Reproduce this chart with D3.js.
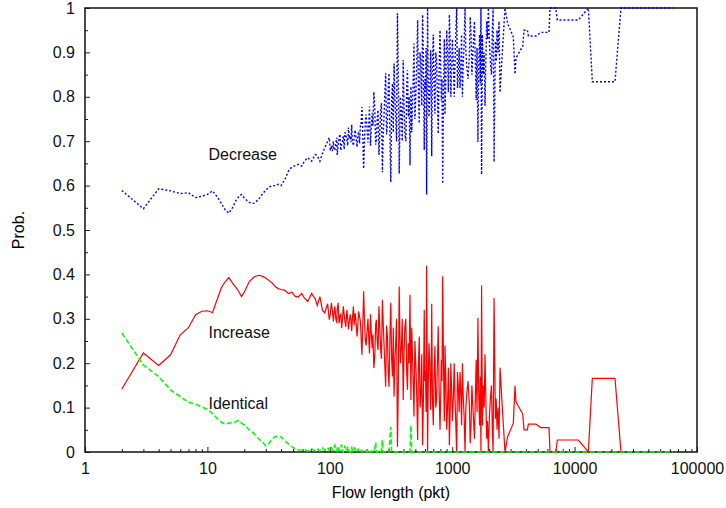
<!DOCTYPE html>
<html>
<head>
<meta charset="utf-8">
<script src="https://cdn.jsdelivr.net/npm/d3@7"></script>
<style>
    body { margin: 0; background: #fff; }
    text { font-family: "Liberation Sans", Arial, sans-serif; }
</style>
</head>
<body>
<div id="chart"></div>
<script>
// Flow lengths (pkt) shared by all three series.
const FLOW_LEN = [
    2, 3, 4, 5, 6, 7, 8, 9, 10, 11, 12, 13, 14, 15, 16, 17, 18, 19, 20, 22, 24, 26, 28,
    30, 32, 34, 36, 38, 40, 43, 46, 49, 52, 55, 59, 62, 66, 71, 76, 79, 83, 87, 91, 96, 99,
    101, 103, 105, 107, 108, 110, 112, 114, 115, 117,
    119, 121, 123, 125, 127, 129, 131, 133, 135, 138,
    140, 142, 144, 147, 149, 151, 153, 156, 158, 161,
    164, 167, 169, 172, 175, 178, 180, 183, 186, 189,
    192, 195, 198, 202, 205, 208, 211, 215, 218, 222,
    225, 229, 233, 237, 240, 244, 248, 252, 256, 260,
    264, 269, 273, 277, 281, 286, 291, 296, 300, 305,
    310, 315, 320, 325, 330, 335, 340, 346, 351, 357,
    363, 369,
    377, 385, 391, 398, 404, 411, 418, 425, 431, 438,
    445, 452, 460, 467, 475, 481, 487, 496, 506, 514,
    522, 530, 538, 546, 555, 564, 573, 582, 591, 598,
    605, 612, 618, 623, 629, 637, 646, 656, 667, 673,
    680, 690, 701, 712, 723, 734, 746, 757, 769, 782,
    795, 804, 814, 825, 836, 849, 862, 868, 873, 888,
    902, 916, 930, 939, 948, 961, 974, 989, 1004,
    1024, 1039, 1054, 1071, 1088, 1104, 1121, 1140, 1158, 1175,
    1193, 1212, 1232, 1252, 1273, 1293, 1313, 1346, 1380, 1403,
    1426, 1448, 1471, 1495, 1520, 1545, 1570, 1596, 1622, 1648,
    1674, 1696, 1718, 1738, 1766, 1795, 1824, 1854, 1883, 1913,
    1945, 1976, 2014, 2052, 2093, 2127, 2159, 2198, 2253, 2288,
    2324, 2368, 2414, 2460, 2536,
    2700, 2840, 3157, 3260, 3320, 3766, 3864, 4115, 4192, 4842,
    5288, 6180, 6296, 7015, 7230, 10740, 12950, 13960, 21380, 23930,
    63700
];

const DECREASE = [
    .589, .548, .593, .588, .582, .584, .573, .576, .58, .588, .575, .56, .545, .538, .55, .565, .575, .58, .572, .562, .56, .568, .58,
    .59, .597, .6, .6, .603, .6, .614, .633, .642, .645, .648, .644, .655, .663, .655, .67, .667, .655, .672, .685, .7, .708,
    .682, .687, .678, .70, .68, .68, .696, .708, .669, .69,
    .707, .716, .679, .694, .698, .712, .682, .72, .715, .703,
    .69, .731, .706, .712, .698, .737, .699, .69, .706, .725,
    .708, .687, .714, .718, .695, .737, .737, .777, .715, .638,
    .696, .744, .76, .724, .697, .738, .778, .69, .728, .764,
    .735, .811, .776, .692, .702, .75, .77, .669, .72, .766,
    .786, .63, .71, .754, .80, .853, .715, .743, .82, .853,
    .71, .608, .79, .83, .72, .875, .80, .747, .70, .988,
    .85, .627,
    .8, .762, .7, .883, .78, .717, .7, .819, .86, .755,
    .8, .646, .823, .72, .793, .85, .92, .75, .816, .88,
    .973, .8, .74, .9, .874, .78, .985, .88, .68, .84,
    .816, .91, .58, .75, 1, .85, .755, .8, .905, .84,
    .666, .88, .94, .82, .762, .9, .883, .8, .717, .86,
    .95, .89, .792, .84, .604, .8, .93, .88, .76, .84,
    .95, .9, .81, .87, .985, .92, .8, .86, .93,
    .87, .8, .88, .94, 1, .82, .85, .91, .82, .86,
    .94, .8, .88, .92, 1, .9, .87, .84, .89, .98,
    .94, .85, .89, .93, .97, .88, .792, .91, .698, .87,
    .94, .83, 1, .625, .94, .85, .9, .78, .88, .97,
    .93, 1, .92, .88, .85, .95, 1, .653, .925, .88,
    .95, .9, .97, .81, .875,
    1, .965, .935, .851, .887, .914, .95, .95, .937, .937,
    .945, .945, 1, 1, .973, .973, 1, .834, .834, 1,
    1
];

const INCREASE = [
    .142, .223, .195, .219, .264, .28, .309, .317, .318, .314, .343, .37, .384, .393, .381, .372, .362, .35, .36, .384, .394, .398, .396,
    .392, .386, .38, .372, .368, .366, .364, .357, .36, .351, .349, .357, .347, .339, .357, .345, .33, .35, .32, .313, .334, .298,
    .31, .336, .318, .294, .31, .328, .30, .291, .322, .336,
    .29, .306, .31, .279, .30, .328, .31, .294, .282, .32,
    .30, .276, .292, .31, .295, .272, .30, .328, .285, .313,
    .292, .26, .28, .317, .305, .294, .26, .219, .285, .362,
    .30, .253, .24, .276, .30, .257, .222, .31, .27, .234,
    .265, .189, .216, .287, .298, .25, .23, .328, .28, .234,
    .21, .343, .29, .246, .20, .147, .285, .257, .18, .147,
    .26, .336, .21, .17, .28, .125, .20, .253, .30, .012,
    .15, .373,
    .2, .238, .3, .117, .22, .283, .3, .181, .14, .245,
    .2, .354, .117, .28, .207, .15, .08, .25, .184, .12,
    .027, .2, .26, .1, .126, .22, .015, .12, .32, .16,
    .184, .09, .42, .25, 0, .15, .245, .2, .095, .16,
    .334, .12, .06, .18, .238, .1, .117, .2, .283, .14,
    .05, .11, .208, .16, .396, .2, .07, .12, .24, .16,
    .05, .1, .19, .13, .015, .08, .2, .14, .07,
    .13, .2, .12, .06, 0, .18, .15, .09, .18, .14,
    .06, .2, .12, .08, 0, .1, .13, .16, .11, .02,
    .06, .15, .11, .07, .03, .12, .208, .09, .302, .13,
    .06, .17, 0, .375, .06, .15, .1, .22, .12, .03,
    .07, 0, .08, .12, .15, .05, 0, .347, .075, .12,
    .05, .1, .03, .19, .125,
    0, .035, .065, .149, .113, .086, .05, .05, .063, .063,
    .055, .055, 0, 0, .027, .027, 0, .166, .166, 0,
    null
];

const IDENTICAL = [
    .268, .196, .17, .14, .125, .112, .108, .102, .096, .087, .076, .067, .063, .065, .066, .068, .071, .065, .061, .05, .042, .031, .023,
    .014, .02, .03, .035, .036, .034, .026, .018, .012, .007, .005, .004, .006, .002, .007, .003, .008, .002, .009, .004, .01, .004,
    .008, .012, .004, .003, .01, .015, .004, .002, .009, .013,
    .003, .004, .011, .017, .002, 0, .008, .014, .003, .003,
    .01, .012, .002, 0, .007, .01, .001, .002, .009, .008,
    0, 0, .006, .006, 0, 0, .003, .004, 0, 0,
    .004, .003, 0, 0, .003, .005, 0, 0, .002, .002,
    0, 0, .008, .021, 0, 0, 0, .003, 0, 0,
    .004, .027, 0, 0, 0, 0, 0, 0, 0, 0,
    .03, .056, 0, 0, 0, 0, 0, 0, 0, 0,
    0, 0,
    0, 0, 0, 0, 0, 0, 0, 0, 0, 0,
    0, 0, .06, 0, 0, 0, 0, 0, 0, 0,
    0, 0, 0, 0, 0, 0, 0, 0, 0, 0,
    0, 0, 0, 0, 0, 0, 0, 0, 0, 0,
    0, 0, 0, 0, 0, 0, 0, 0, 0, 0,
    0, 0, 0, 0, 0, 0, 0, 0, 0, 0,
    0, 0, 0, 0, 0, 0, 0, 0, 0,
    0, 0, 0, 0, 0, 0, 0, 0, 0, 0,
    0, 0, 0, 0, 0, 0, 0, 0, 0, 0,
    0, 0, 0, 0, 0, 0, 0, 0, 0, 0,
    0, 0, 0, 0, 0, 0, 0, 0, 0, 0,
    0, 0, 0, 0, 0, 0, 0, 0, 0, 0,
    0, 0, 0, 0, 0,
    0, 0, 0, 0, 0, 0, 0, 0, 0, 0,
    0, 0, 0, 0, 0, 0, 0, 0, 0, 0,
    0
];

const X_TICKS = [1, 10, 100, 1000, 10000, 100000];
const Y_TICKS = [0, 0.1, 0.2, 0.3, 0.4, 0.5, 0.6, 0.7, 0.8, 0.9, 1];

const SERIES = [
    { name: 'Decrease', values: DECREASE, color: '#0000ff', dash: '2,2', width: 1.4, label: { x: 10.2, y: 0.657 } },
    { name: 'Increase', values: INCREASE, color: '#ff0000', dash: null, width: 1.2, label: { x: 10.2, y: 0.257 } },
    { name: 'Identical', values: IDENTICAL, color: '#00ff00', dash: '5,2.5', width: 1.6, label: { x: 10.2, y: 0.096 } }
];

class FlowVis {

    constructor(_config) {
        this.config = {
            parentElement: _config.parentElement,
            containerWidth: 726,
            containerHeight: 508,
            margin: {top: 8, right: 29, bottom: 56, left: 85}
        };
        this.initVis();
    }

    initVis() {
        let vis = this;

        vis.width = vis.config.containerWidth - vis.config.margin.left - vis.config.margin.right;
        vis.height = vis.config.containerHeight - vis.config.margin.top - vis.config.margin.bottom;

        vis.svg = d3.select(vis.config.parentElement).append('svg')
            .attr('width', vis.config.containerWidth)
            .attr('height', vis.config.containerHeight);

        vis.chart = vis.svg.append('g')
            .attr('transform', `translate(${vis.config.margin.left},${vis.config.margin.top})`);

        vis.xScale = d3.scaleLog().domain([1, 100000]).range([0, vis.width]);
        vis.yScale = d3.scaleLinear().domain([0, 1]).range([vis.height, 0]);

        // Minor ticks: 2..9 in every decade, and every 0.05 on y.
        const xMinor = [];
        for (let d = 1; d < 100000; d *= 10) {
            for (let k = 2; k < 10; k++) xMinor.push(d * k);
        }
        const yMinor = d3.range(0.05, 1, 0.1);

        vis.xAxis = d3.axisBottom(vis.xScale)
            .tickValues(X_TICKS)
            .tickFormat(d3.format('d'))
            .tickSize(-5)
            .tickPadding(11);

        vis.yAxis = d3.axisLeft(vis.yScale)
            .tickValues(Y_TICKS)
            .tickFormat(d => d === 0 || d === 1 ? d3.format('d')(d) : d3.format('.1f')(d))
            .tickSize(-5)
            .tickPadding(10);

        vis.chart.append('g')
            .attr('transform', `translate(0,${vis.height})`)
            .call(d3.axisBottom(vis.xScale).tickValues(xMinor).tickFormat('').tickSize(-3))
            .call(g => g.select('.domain').remove());

        vis.chart.append('g')
            .call(d3.axisLeft(vis.yScale).tickValues(yMinor).tickFormat('').tickSize(-3))
            .call(g => g.select('.domain').remove());

        vis.xAxisG = vis.chart.append('g')
            .attr('class', 'axis x-axis')
            .attr('transform', `translate(0,${vis.height})`)
            .call(vis.xAxis)
            .call(g => g.select('.domain').remove());

        vis.yAxisG = vis.chart.append('g')
            .attr('class', 'axis y-axis')
            .call(vis.yAxis)
            .call(g => g.select('.domain').remove());

        vis.chart.selectAll('.tick line').attr('stroke', '#222').attr('stroke-width', 1);
        vis.chart.selectAll('.tick text')
            .attr('fill', '#111')
            .style('font-size', '16px')
            .style('font-family', '"Liberation Sans", Arial, sans-serif');

        // Border around the plot area.
        vis.chart.append('rect')
            .attr('width', vis.width)
            .attr('height', vis.height)
            .attr('fill', 'none')
            .attr('stroke', '#111')
            .attr('stroke-width', 1.5);

        vis.svg.append('text')
            .attr('x', vis.config.margin.left + vis.width / 2)
            .attr('y', 498)
            .attr('text-anchor', 'middle')
            .style('font-size', '16px')
            .text('Flow length (pkt)');

        vis.svg.append('text')
            .attr('transform', `translate(24,${vis.config.margin.top + vis.height / 2}) rotate(-90)`)
            .attr('text-anchor', 'middle')
            .style('font-size', '16px')
            .text('Prob.');

        vis.renderVis();
    }

    renderVis() {
        let vis = this;

        const line = d3.line()
            .defined(d => d.y !== null)
            .x(d => vis.xScale(d.x))
            .y(d => vis.yScale(d.y));

        SERIES.forEach(s => {
            const pts = FLOW_LEN.map((x, i) => ({ x: x, y: s.values[i] }));
            vis.chart.append('path')
                .datum(pts)
                .attr('fill', 'none')
                .attr('stroke', s.color)
                .attr('stroke-width', s.width)
                .attr('stroke-dasharray', s.dash)
                .attr('d', line);

            vis.chart.append('text')
                .attr('x', vis.xScale(s.label.x))
                .attr('y', vis.yScale(s.label.y))
                .attr('fill', '#111')
                .style('font-size', '16px')
                .text(s.name);
        });
    }
}

new FlowVis({ parentElement: '#chart' });
</script>
</body>
</html>
